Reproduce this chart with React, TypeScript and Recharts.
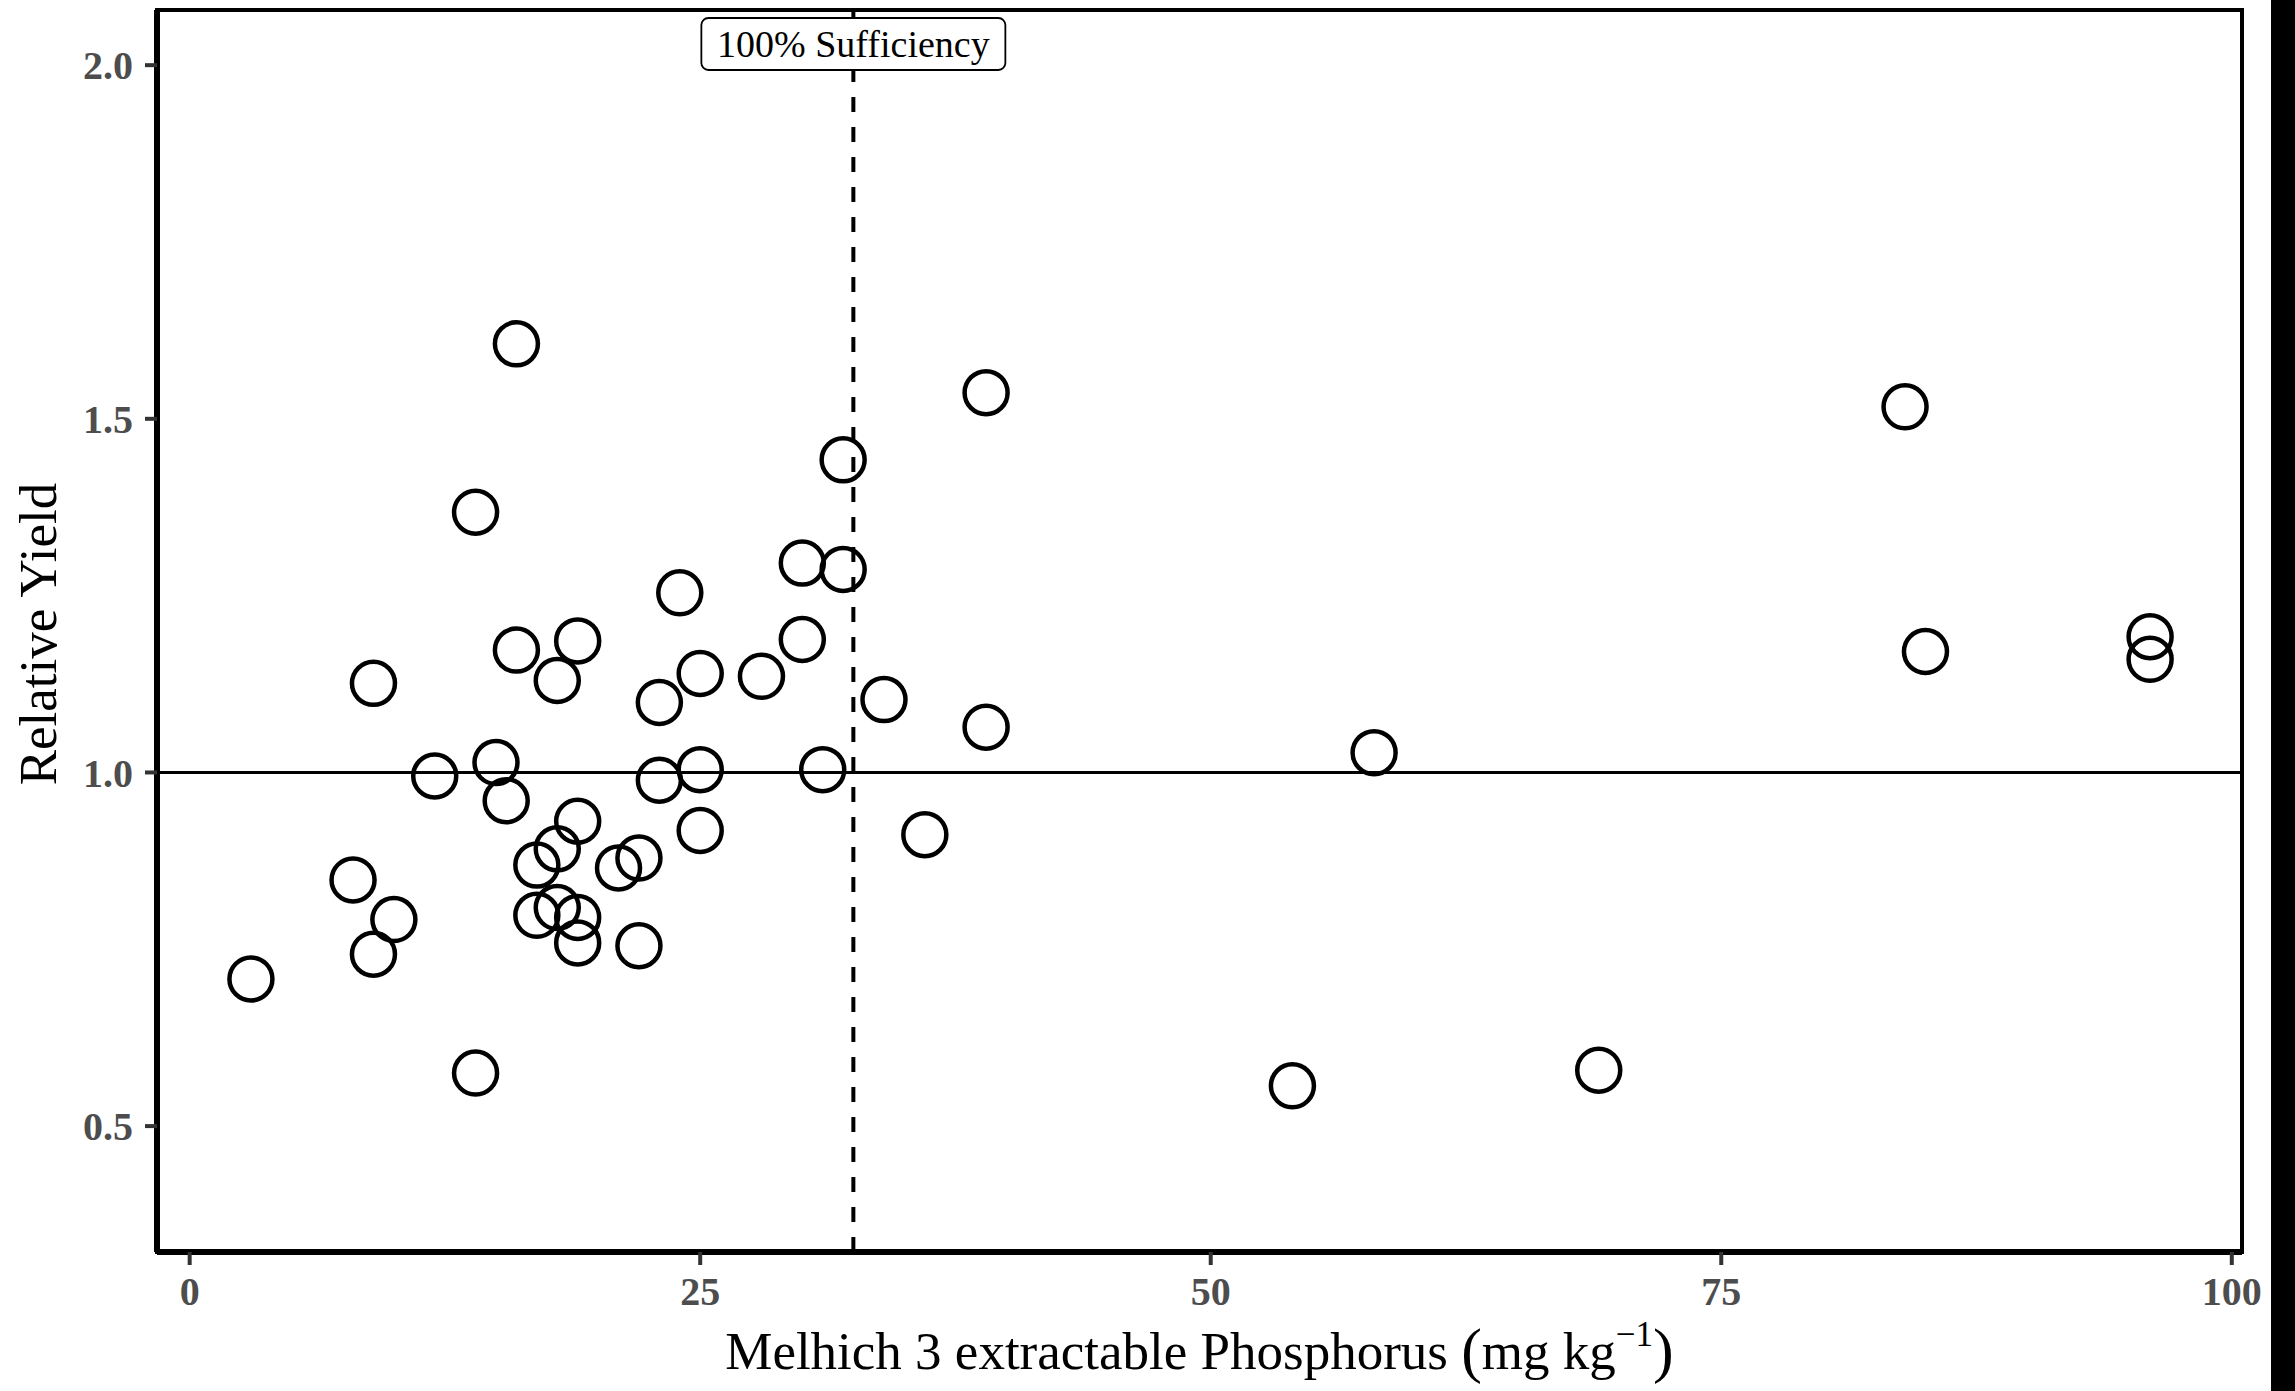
import React from "react";
import {
  ReferenceArea,
  ReferenceLine,
  Scatter,
  ScatterChart,
  XAxis,
  YAxis,
} from "recharts";

// Melhich 3 P (mg/kg) vs relative yield
const phosphorus = [
  16, 14, 39, 32, 84, 30, 32, 24, 30, 16, 19, 9, 18, 25, 28, 23, 34, 39, 85, 96,
  96, 58, 12, 15, 15.5, 23, 25, 31, 19, 25, 36, 17, 18, 21, 22, 8, 10, 17, 18,
  19, 19, 22, 9, 3, 14, 54, 69,
];
const relativeYield = [
  1.606, 1.368, 1.537, 1.442, 1.517, 1.296, 1.287, 1.254, 1.188, 1.173, 1.186,
  1.126, 1.13, 1.14, 1.136, 1.099, 1.103, 1.064, 1.171, 1.192, 1.16, 1.028,
  0.995, 1.014, 0.96, 0.989, 1.004, 1.004, 0.931, 0.918, 0.912, 0.869, 0.892,
  0.865, 0.879, 0.848, 0.792, 0.798, 0.809, 0.795, 0.759, 0.755, 0.743, 0.708,
  0.575, 0.557, 0.579,
];
const xTicks = [0, 25, 50, 75, 100];
const yTicks = [0.5, 1.0, 1.5, 2.0];
const sufficiencyP = 32.5;
const sufficiencyLabel = "100% Sufficiency";

const xDomain: [number, number] = [-1.6, 100.5];
const yDomain: [number, number] = [0.322, 2.078];

const serif = "'Liberation Serif', 'Times New Roman', serif";

const points = phosphorus.map((p, i) => ({ p, ry: relativeYield[i] }));

const OpenCircle = (props: any) => {
  const { cx, cy } = props;
  if (cx == null || cy == null) return null;
  return <circle cx={cx} cy={cy} r={21.5} fill="none" stroke="#000" strokeWidth={4.5} />;
};

const tickStyle = { fontFamily: serif, fontSize: 40, fontWeight: 700, fill: "#4d4d4d" };

const SufficiencyBox = (props: any) => {
  const { viewBox } = props;
  const cx = viewBox.x;
  const top = viewBox.y + 8;
  const w = 304;
  const h = 52;
  return (
    <g>
      <rect x={cx - w / 2} y={top} width={w} height={h} rx={7} ry={7} fill="#fff" stroke="#000" strokeWidth={1.8} />
      <text x={cx} y={top + h / 2 + 13} textAnchor="middle" fontFamily={serif} fontSize={38} fill="#000">
        {sufficiencyLabel}
      </text>
    </g>
  );
};

const XTitle = (props: any) => {
  const { viewBox } = props;
  const cx = viewBox.x + viewBox.width / 2;
  return (
    <text x={cx} y={1369} textAnchor="middle" fontFamily={serif} fontSize={53} fill="#000">
      Melhich 3 extractable Phosphorus{" "}
      <tspan fontSize={62} dy={2}>(</tspan>
      <tspan fontSize={53} dy={-2}>mg kg</tspan>
      <tspan fontSize={35} dy={-23}>−1</tspan>
      <tspan fontSize={62} dy={25}>)</tspan>
    </text>
  );
};

const YTitle = (props: any) => {
  const { viewBox } = props;
  const cy = viewBox.y + viewBox.height / 2 + 3;
  const x = 38;
  return (
    <text
      x={x}
      y={cy}
      textAnchor="middle"
      dominantBaseline="central"
      transform={`rotate(-90, ${x}, ${cy})`}
      fontFamily={serif}
      fontSize={53}
      fill="#000"
    >
      Relative Yield
    </text>
  );
};

export default function App() {
  return (
    <div style={{ position: "absolute", left: 0, top: 0, width: 2295, height: 1391, background: "#fff" }}>
      <ScatterChart width={2295} height={1391} margin={{ top: 10, right: 53, bottom: 0, left: 0 }}>
        <XAxis
          type="number"
          dataKey="p"
          domain={xDomain}
          ticks={xTicks}
          allowDataOverflow
          height={139}
          tick={tickStyle}
          tickSize={13}
          tickMargin={12}
          tickLine={{ stroke: "#333", strokeWidth: 4 }}
          axisLine={{ stroke: "#000", strokeWidth: 6 }}
          label={<XTitle />}
        />
        <YAxis
          type="number"
          dataKey="ry"
          domain={yDomain}
          ticks={yTicks}
          allowDataOverflow
          width={157}
          tick={tickStyle}
          tickFormatter={(v: number) => v.toFixed(1)}
          tickSize={12}
          tickMargin={12}
          tickLine={{ stroke: "#333", strokeWidth: 4 }}
          axisLine={{ stroke: "#000", strokeWidth: 6 }}
          label={<YTitle />}
        />
        <ReferenceArea
          x1={xDomain[0]}
          x2={xDomain[1]}
          y1={yDomain[0]}
          y2={yDomain[1]}
          fill="none"
          stroke="#000"
          strokeWidth={4}
          ifOverflow="visible"
        />
        <ReferenceLine y={1} stroke="#000" strokeWidth={3} />
        <ReferenceLine
          x={sufficiencyP}
          stroke="#000"
          strokeWidth={4}
          strokeDasharray="15 15"
          label={<SufficiencyBox />}
        />
        <Scatter data={points} shape={<OpenCircle />} isAnimationActive={false} />
      </ScatterChart>
      <div style={{ position: "absolute", left: 2271, top: 0, width: 24, height: 1391, background: "#000" }} />
    </div>
  );
}
